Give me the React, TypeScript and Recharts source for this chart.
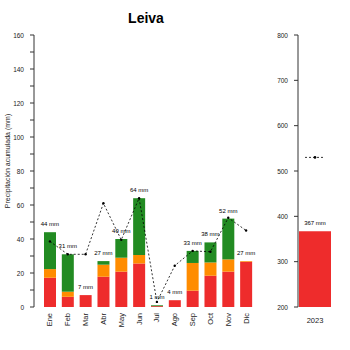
import { ComposedChart, Bar, Line, XAxis, YAxis, LabelList } from "recharts";

const FONT = "'Liberation Sans', Arial, sans-serif";
const ROJO = "#EE2C2C";
const NARANJA = "#FF8C00";
const VERDE = "#228B22";

// precipitación mensual (mm), partida en tres tramos apilados
const meses = ["Ene", "Feb", "Mar", "Abr", "May", "Jun", "Jul", "Ago", "Sep", "Oct", "Nov", "Dic"];
const totales = [44, 31, 7, 27, 40, 64, 1, 4, 33, 38, 52, 27];
const tramoRojo = [17.2, 6, 7, 17.8, 20.8, 25.6, 0.5, 4, 9.6, 18.4, 20.8, 26.6];
const tramoNaranja = [5.1, 3, 0, 7.1, 8.2, 5, 0, 0, 16.3, 7.8, 7.2, 0.4];
// media histórica mensual (línea discontinua)
const mediaMensual = [38.6, 31, 31, 61, 39.5, 64, 3, 24.3, 33, 32.5, 52.5, 45];

// acumulado anual
const anios = ["2023"];
const totalAnual = [367];
const mediaAnual = [530];

const ticksIzq = [0, 10, 20, 30, 40, 50, 60, 70, 80, 90, 100, 110, 120, 130, 140, 150, 160];
const ticksDer = [200, 300, 400, 500, 600, 700, 800];

const datos = meses.map((m, i) => ({
  mes: m,
  rojo: tramoRojo[i],
  naranja: tramoNaranja[i],
  verde: Math.max(0, totales[i] - tramoRojo[i] - tramoNaranja[i]),
  total: totales[i],
  media: mediaMensual[i],
}));

const datosAnual = anios.map((a, i) => ({ anio: a, total: totalAnual[i], media: mediaAnual[i] }));

const YTickIzq = (props: any) => {
  const { x, y, payload } = props;
  if (payload.value % 20 !== 0) return <g />;
  return (
    <text x={x} y={y} textAnchor="end" dominantBaseline="central" fontSize={6.5} fill="#222" fontFamily={FONT}>
      {payload.value}
    </text>
  );
};

const YTickDer = (props: any) => {
  const { x, y, payload } = props;
  return (
    <text x={x} y={y} textAnchor="end" dominantBaseline="central" fontSize={6.5} fill="#222" fontFamily={FONT}>
      {payload.value}
    </text>
  );
};

const MesTick = (props: any) => {
  const { x, y, payload } = props;
  return (
    <text
      transform={`translate(${x},${y}) rotate(-90)`}
      textAnchor="end"
      dominantBaseline="central"
      fontSize={7.5}
      fill="#222"
      fontFamily={FONT}
    >
      {payload.value}
    </text>
  );
};

const AnioTick = (props: any) => {
  const { x, y, payload } = props;
  return (
    <text x={x} y={y} textAnchor="middle" dominantBaseline="central" fontSize={7.5} fill="#222" fontFamily={FONT}>
      {payload.value}
    </text>
  );
};

const EtiquetaMm = (props: any) => {
  const { x, y, width, value } = props;
  return (
    <text x={x + (width || 0) / 2} y={y - 6} textAnchor="middle" fontSize={6} fill="#000" fontFamily={FONT}>
      {`${value} mm`}
    </text>
  );
};

const MediaAnualDot = (props: any) => {
  const { cx, cy } = props;
  if (cx == null || cy == null) return <g />;
  return (
    <g>
      <line x1={cx - 10} x2={cx + 10} y1={cy} y2={cy} stroke="#000" strokeWidth={0.8} strokeDasharray="2 2" />
      <circle cx={cx} cy={cy} r={1.3} fill="#000" />
    </g>
  );
};

export default function App() {
  return (
    <div style={{ position: "absolute", left: 0, top: 0, width: 350, height: 350, background: "#fff" }}>
      <div style={{ position: "absolute", left: 0, top: 0 }}>
        <ComposedChart
          width={262}
          height={350}
          data={datos}
          margin={{ top: 35, right: 7, bottom: 23, left: 0 }}
          barCategoryGap="16.7%"
        >
          <XAxis
            dataKey="mes"
            padding={{ left: 7, right: 0 }}
            axisLine={false}
            tickLine={false}
            interval={0}
            height={20}
            tickSize={0}
            tickMargin={6}
            tick={<MesTick />}
          />
          <YAxis
            domain={[0, 160]}
            ticks={ticksIzq}
            width={34}
            tickSize={4}
            tickMargin={6}
            interval={0}
            axisLine={{ stroke: "#333" }}
            tickLine={{ stroke: "#333" }}
            tick={<YTickIzq />}
          />
          <Bar dataKey="rojo" stackId="p" fill={ROJO} isAnimationActive={false} />
          <Bar dataKey="naranja" stackId="p" fill={NARANJA} isAnimationActive={false} />
          <Bar dataKey="verde" stackId="p" fill={VERDE} isAnimationActive={false} />
          <Line
            dataKey="media"
            type="linear"
            stroke="#000"
            strokeWidth={0.8}
            strokeDasharray="2 2"
            dot={{ r: 1.2, fill: "#000", stroke: "#000", strokeWidth: 0, strokeDasharray: "" }}
            isAnimationActive={false}
          />
          <Line dataKey="total" stroke="none" dot={false} isAnimationActive={false}>
            <LabelList dataKey="total" content={<EtiquetaMm />} />
          </Line>
        </ComposedChart>
      </div>

      <div style={{ position: "absolute", left: 260, top: 0 }}>
        <ComposedChart width={80} height={350} data={datosAnual} margin={{ top: 35, right: 8, bottom: 23, left: 0 }}>
          <XAxis
            dataKey="anio"
            axisLine={false}
            tickLine={false}
            height={20}
            tickSize={0}
            tickMargin={13}
            tick={<AnioTick />}
          />
          <YAxis
            domain={[200, 800]}
            ticks={ticksDer}
            width={38}
            tickSize={4}
            tickMargin={6}
            interval={0}
            axisLine={{ stroke: "#333" }}
            tickLine={{ stroke: "#333" }}
            tick={<YTickDer />}
          />
          <Bar dataKey="total" fill={ROJO} barSize={32} isAnimationActive={false}>
            <LabelList dataKey="total" content={<EtiquetaMm />} />
          </Bar>
          <Line dataKey="media" stroke="none" dot={<MediaAnualDot />} isAnimationActive={false} />
        </ComposedChart>
      </div>

      <svg width={350} height={350} style={{ position: "absolute", left: 0, top: 0, pointerEvents: "none" }}>
        <text x={146} y={23} textAnchor="middle" fontSize={14} fontWeight="bold" fill="#000" fontFamily={FONT}>
          Leiva
        </text>
        <text
          transform="translate(7,161) rotate(-90)"
          textAnchor="middle"
          dominantBaseline="central"
          fontSize={7}
          fill="#222"
          fontFamily={FONT}
        >
          Precipitación acumulada (mm)
        </text>
      </svg>
    </div>
  );
}
